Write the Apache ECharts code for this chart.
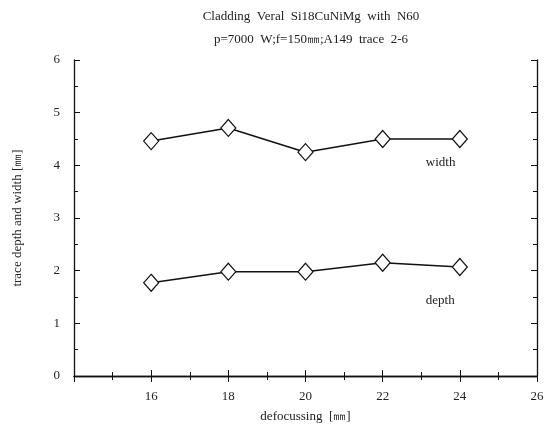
<!DOCTYPE html>
<html lang="en">
<head>
  <meta charset="UTF-8">
  <title>Cladding Veral Si18CuNiMg</title>
  <script src="https://cdn.jsdelivr.net/npm/echarts@6/dist/echarts.min.js"></script>
</head>
<body style="margin:0;background:#fff">
<div id="chart" style="width: 552px; height: 430px"></div>
<script>
  // defocussing [mm]
  const defocus = [16, 18, 20, 22, 24];
  const widthVals = [4.46, 4.71, 4.25, 4.5, 4.5];
  const depthVals = [1.77, 1.98, 1.98, 2.15, 2.07];

  const font = "'Liberation Serif', 'DejaVu Serif', serif";

  function axisStyle(showLabel, fmt) {
    return {
      axisLine: { show: true, lineStyle: { color: '#111', width: 1.3 } },
      axisTick: { show: true, inside: true, length: 6, lineStyle: { color: '#111' } },
      minorTick: { show: true, splitNumber: 2, length: 4, lineStyle: { color: '#111' } },
      splitLine: { show: false },
      axisLabel: { show: showLabel, color: '#222', fontFamily: font, fontSize: 13, margin: 14, formatter: fmt }
    };
  }

  const chart = echarts.init(document.getElementById('chart'));
  chart.setOption({
    animation: false,
    title: {
      text: 'Cladding  Veral  Si18CuNiMg  with  N60',
      subtext: 'p=7000  W;f=150㎜;A149  trace  2-6',
      left: 306,
      textAlign: 'center',
      top: 5,
      itemGap: 10,
      textStyle: { fontFamily: font, fontSize: 13, fontWeight: 'normal', color: '#222' },
      subtextStyle: { fontFamily: font, fontSize: 13, color: '#222' }
    },
    grid: { left: 74, right: 15, top: 60, bottom: 54 },
    xAxis: [
      Object.assign({
        type: 'value', min: 14, max: 26, interval: 2,
        name: 'defocussing  [㎜]', nameLocation: 'middle', nameGap: 34,
        nameTextStyle: { fontFamily: font, fontSize: 13, color: '#222' }
      }, axisStyle(true, v => v === 14 ? '' : v)),
      Object.assign({ type: 'value', position: 'top', min: 14, max: 26, interval: 2 }, axisStyle(false))
    ],
    yAxis: [
      Object.assign({
        type: 'value', min: 0, max: 6, interval: 1,
        name: 'trace depth and width [㎜]', nameLocation: 'middle', nameGap: 50,
        nameTextStyle: { fontFamily: font, fontSize: 13, color: '#222' }
      }, axisStyle(true)),
      Object.assign({ type: 'value', position: 'right', min: 0, max: 6, interval: 1 }, axisStyle(false))
    ],
    series: [
      {
        name: 'width', type: 'line',
        data: defocus.map((x, i) => [x, widthVals[i]]),
        symbol: 'diamond', symbolSize: [15, 17],
        itemStyle: { color: '#fff', borderColor: '#111', borderWidth: 1.2 },
        lineStyle: { color: '#111', width: 1.5 },
        endLabel: { show: true, formatter: 'width', offset: [-42, 24], fontFamily: font, fontSize: 13, color: '#222' }
      },
      {
        name: 'depth', type: 'line',
        data: defocus.map((x, i) => [x, depthVals[i]]),
        symbol: 'diamond', symbolSize: [15, 17],
        itemStyle: { color: '#fff', borderColor: '#111', borderWidth: 1.2 },
        lineStyle: { color: '#111', width: 1.5 },
        endLabel: { show: true, formatter: 'depth', offset: [-42, 34], fontFamily: font, fontSize: 13, color: '#222' }
      }
    ]
  });
</script>
</body>
</html>
